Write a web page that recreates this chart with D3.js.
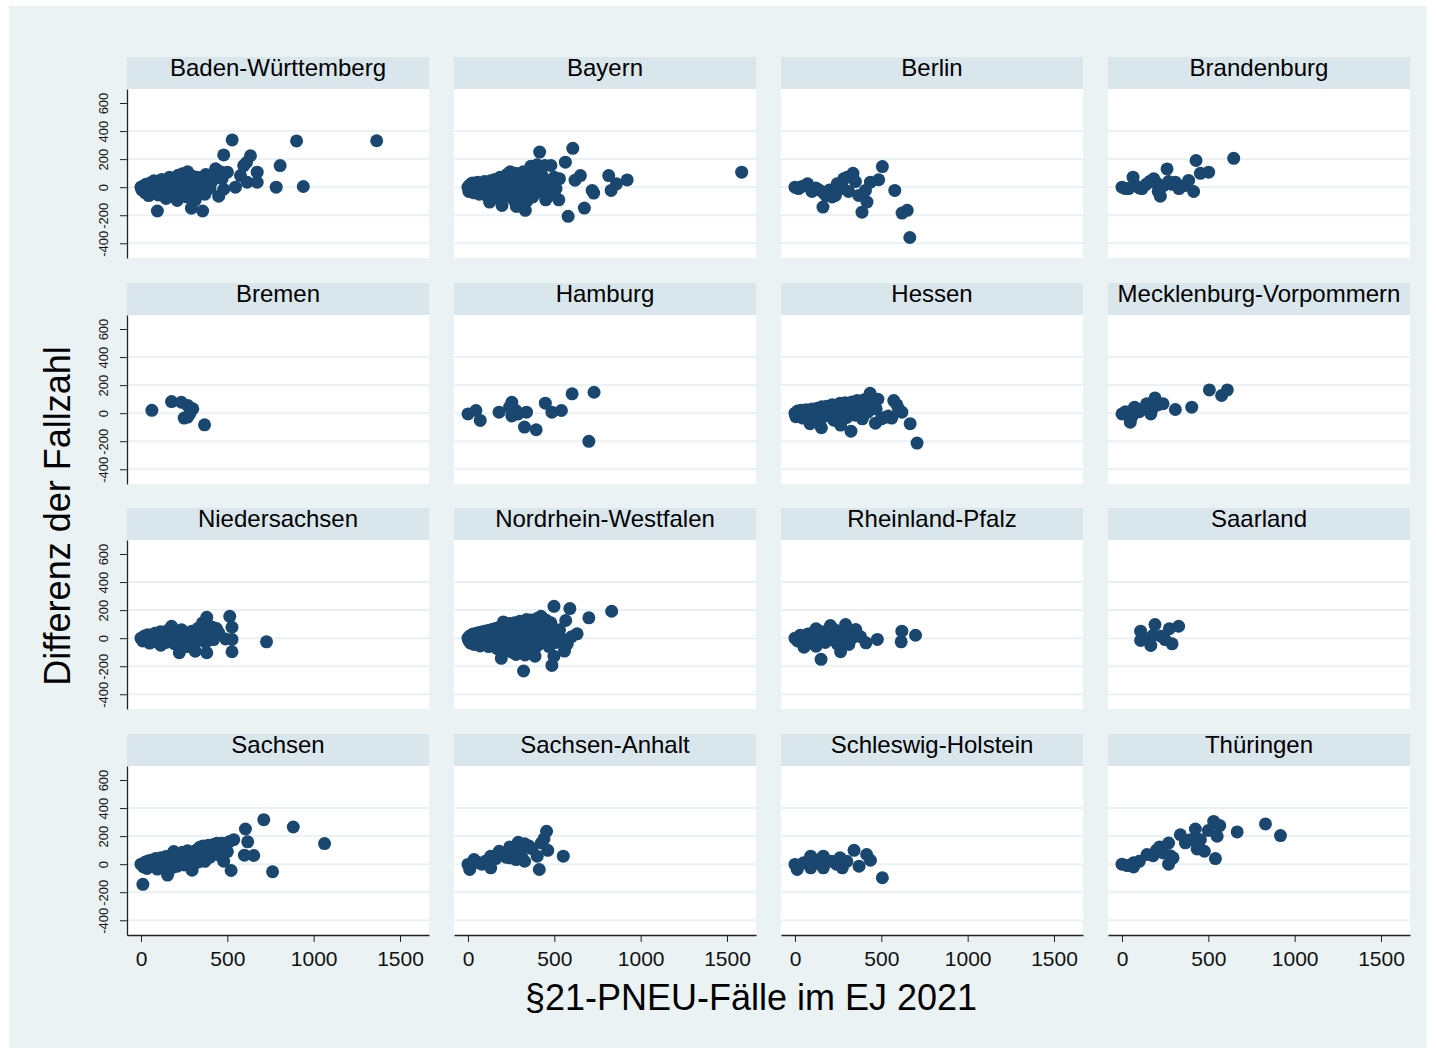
<!DOCTYPE html>
<html>
<head>
<meta charset="utf-8">
<script src="https://cdn.jsdelivr.net/npm/d3@7"></script>
<style>
  body { margin: 0; background: #fff; }
  svg { display: block; font-family: "Liberation Sans", Arial, sans-serif; }
</style>
</head>
<body>
<div id="chart"></div>
<script>
// values: [§21-PNEU-Fälle, Differenz]
const bw = [[0,0],[5,-20],[15,10],[25,-40],[30,20],[40,-10],[45,-60],[55,30],[60,5],[70,-30],[75,45],[85,-15],[90,15],[100,-55],[105,35],[95,-170],[115,-5],[120,55],[130,-35],[135,20],[145,-80],[150,40],[160,0],[165,70],[175,-25],[180,25],[190,-60],[195,60],[205,10],[210,-95],[215,85],[225,-20],[230,35],[240,95],[245,-45],[250,0],[255,60],[265,-70],[270,110],[275,25],[285,-10],[292,-150],[295,80],[300,-40],[305,45],[315,-90],[320,15],[325,70],[335,-20],[340,5],[357,-170],[350,60],[360,30],[370,-50],[375,90],[385,10],[395,70],[400,-5],[410,40],[432,131],[430,85],[450,-64],[479,-15],[460,110],[470,60],[500,107],[479,230],[528,337],[547,0],[576,83],[595,154],[611,176],[615,35],[634,224],[673,35],[673,107],[783,0],[806,154],[901,330],[940,5],[1365,331]];
const by = [[0,0],[5,-30],[10,15],[20,-10],[25,30],[35,-40],[40,10],[50,-20],[55,35],[65,-50],[70,5],[80,25],[85,-30],[95,40],[100,-10],[110,-60],[115,20],[125,-106],[130,45],[140,-15],[145,30],[155,55],[160,-45],[170,10],[175,-80],[185,70],[190,-20],[197,-130],[195,35],[210,50],[220,-5],[225,90],[230,-60],[240,20],[245,110],[250,-35],[260,60],[265,-90],[270,0],[280,-137],[275,100],[285,40],[295,-20],[300,75],[310,30],[315,-55],[320,110],[330,-10],[332,-165],[335,55],[340,-100],[345,90],[350,15],[360,-40],[365,150],[370,40],[375,-70],[380,100],[395,20],[400,160],[405,60],[415,250],[415,-30],[420,130],[430,80],[440,0],[445,155],[450,-90],[460,45],[470,-60],[480,155],[490,30],[500,70],[510,-10],[526,-90],[530,60],[564,178],[580,-208],[607,277],[620,50],[651,83],[674,-149],[719,-23],[728,-42],[815,83],[829,-23],[860,24],[922,52],[1585,107]];
const be = [[0,0],[20,-10],[40,5],[73,24],[98,-31],[120,-5],[140,-20],[162,-142],[166,-40],[180,-60],[200,-20],[215,-70],[234,-59],[244,24],[250,-20],[273,0],[282,60],[302,71],[310,-30],[336,99],[350,40],[369,-59],[388,-178],[408,-23],[417,-106],[437,36],[485,53],[506,147],[578,-23],[620,-185],[650,-165],[665,-359]];
const bb = [[0,0],[20,-10],[38,-10],[64,71],[80,10],[100,-5],[116,-10],[140,20],[160,40],[184,60],[200,30],[210,-30],[222,-64],[240,10],[261,130],[270,40],[290,20],[309,36],[330,-10],[360,10],[386,48],[415,-31],[429,190],[454,99],[502,107],[647,206]];
const hb = [[63,20],[177,83],[234,78],[250,-35],[270,55],[300,31],[282,-5],[270,-28],[368,-83]];
const hh = [[0,-5],[46,19],[71,-52],[180,7],[241,43],[254,78],[278,19],[290,-5],[254,-20],[327,-99],[339,7],[395,-118],[448,71],[486,7],[541,19],[603,138],[700,-201],[730,149]];
const he = [[0,0],[5,-25],[15,15],[25,-10],[35,20],[45,-35],[55,5],[65,25],[75,-20],[87,-75],[90,15],[100,30],[110,-5],[120,-40],[130,35],[140,10],[153,-104],[155,45],[165,-25],[175,20],[185,50],[195,-10],[205,35],[215,60],[225,-50],[230,15],[240,55],[250,-20],[260,70],[264,-85],[270,25],[280,40],[290,75],[300,-30],[310,55],[320,10],[324,-128],[330,80],[340,45],[350,-15],[360,90],[370,30],[380,70],[390,-40],[400,95],[410,50],[420,5],[430,85],[435,142],[440,110],[450,60],[466,-71],[470,30],[480,100],[500,-40],[520,-30],[540,-20],[560,-35],[572,90],[590,60],[600,30],[619,7],[667,-75],[707,-213]];
const mv = [[0,-5],[20,10],[48,-64],[60,-20],[73,43],[100,10],[120,30],[143,67],[167,-5],[180,40],[191,109],[210,60],[238,67],[309,26],[404,43],[506,166],[577,126],[610,166]];
const ni = [[0,0],[10,-20],[20,15],[30,-10],[40,25],[50,-35],[60,10],[70,-25],[80,35],[90,-15],[100,20],[112,45],[115,-50],[125,0],[135,30],[145,-30],[155,55],[165,-10],[177,85],[185,15],[195,-40],[205,40],[215,-20],[222,-104],[225,25],[235,60],[245,-30],[255,10],[265,-60],[275,35],[285,-5],[295,50],[305,-45],[314,-93],[320,20],[330,70],[340,-15],[356,109],[365,30],[375,-30],[381,149],[381,-104],[390,60],[400,10],[410,80],[420,-10],[437,69],[450,40],[490,-5],[514,156],[527,78],[527,-9],[527,-97],[727,-26]];
const nw = [[0,0],[5,-20],[10,15],[15,-35],[20,20],[25,-5],[30,30],[35,-45],[40,10],[45,-15],[50,35],[55,-30],[60,5],[65,40],[70,-55],[75,20],[80,-10],[85,45],[90,-40],[95,15],[100,50],[105,-25],[110,0],[115,55],[120,-60],[125,30],[130,-15],[135,60],[140,-45],[145,20],[150,65],[155,-30],[160,5],[165,70],[170,-75],[175,35],[180,-5],[185,80],[190,-50],[193,-144],[195,25],[200,90],[205,116],[210,-20],[215,45],[220,100],[225,-85],[230,10],[235,70],[240,-40],[245,105],[250,30],[255,-100],[260,60],[265,-15],[270,110],[278,-116],[280,40],[285,-60],[290,85],[295,5],[300,120],[305,-80],[310,50],[315,-30],[322,-234],[320,95],[325,15],[330,-120],[339,133],[340,60],[345,-50],[350,100],[355,25],[360,-90],[365,130],[370,70],[375,-20],[380,110],[388,-128],[390,40],[395,-60],[400,140],[405,80],[410,10],[415,-40],[423,156],[425,100],[430,50],[440,-20],[450,130],[460,70],[470,-60],[480,110],[486,-194],[490,20],[498,227],[498,-128],[510,-30],[522,-9],[530,60],[540,0],[559,-92],[566,126],[575,-40],[590,211],[600,10],[632,31],[700,145],[832,192]];
const rp = [[0,0],[15,-20],[30,20],[52,-64],[60,10],[75,30],[90,-15],[105,40],[122,67],[122,-57],[135,5],[151,-151],[160,45],[175,-30],[190,20],[205,90],[215,-10],[230,60],[245,-40],[255,30],[264,-97],[275,10],[293,97],[300,50],[312,-45],[330,0],[352,62],[380,10],[411,-33],[477,-9],[615,-26],[619,50],[698,21]];
const sl = [[108,50],[191,97],[274,67],[328,85],[108,-16],[167,-52],[290,-40],[226,14],[143,-5],[180,20],[250,-10]];
const sn = [[0,0],[11,-144],[15,-20],[25,15],[35,-30],[45,25],[55,5],[65,30],[75,-15],[85,40],[95,-35],[105,20],[115,45],[125,-10],[135,30],[145,55],[154,-78],[160,10],[170,60],[180,-25],[190,90],[200,35],[210,-15],[220,70],[230,40],[240,85],[250,-5],[260,60],[270,95],[280,20],[296,-43],[300,70],[310,40],[320,100],[330,15],[340,120],[350,60],[360,130],[370,20],[380,90],[390,135],[400,50],[410,110],[420,140],[430,80],[440,150],[450,100],[460,60],[470,150],[479,21],[490,120],[500,90],[510,160],[522,-45],[537,175],[599,64],[605,251],[618,159],[653,62],[711,317],[762,-54],[882,265],[1063,147]];
const st = [[0,-2],[10,-38],[35,33],[60,10],[80,0],[100,20],[132,-26],[132,57],[160,40],[181,92],[200,70],[220,50],[242,123],[242,45],[260,100],[279,33],[291,156],[300,90],[310,60],[328,145],[328,21],[352,130],[370,110],[401,57],[413,-38],[425,151],[440,180],[455,234],[462,99],[552,57]];
const sh = [[0,-2],[13,-38],[50,10],[91,57],[91,-26],[130,20],[164,57],[164,-26],[213,21],[240,0],[261,45],[274,-26],[300,20],[342,99],[371,-14],[415,69],[437,28],[506,-97]];
const th = [[0,0],[30,-10],[67,10],[67,-20],[100,20],[145,69],[180,60],[200,100],[218,123],[240,80],[270,151],[270,0],[280,60],[296,45],[338,210],[367,152],[396,175],[425,251],[435,109],[454,175],[477,92],[500,240],[531,305],[541,40],[551,199],[566,275],[667,230],[831,287],[918,204]];

const states = ["Baden-Württemberg","Bayern","Berlin","Brandenburg","Bremen","Hamburg","Hessen","Mecklenburg-Vorpommern","Niedersachsen","Nordrhein-Westfalen","Rheinland-Pfalz","Saarland","Sachsen","Sachsen-Anhalt","Schleswig-Holstein","Thüringen"];
const stateValues = [bw, by, be, bb, hb, hh, he, mv, ni, nw, rp, sl, sn, st, sh, th];

const xTicks = [0, 500, 1000, 1500];
const yTicks = [-400, -200, 0, 200, 400, 600];
const yGrid = [-400, -200, 0, 200, 400];

const width = 1436, height = 1054;
const colX = [127, 454, 781, 1108];
const rowY = [57, 283, 508, 734];
const pw = 302, stripH = 32, ph = 169;
const navy = "#1a476f";

const svg = d3.select("#chart").append("svg")
  .attr("width", width).attr("height", height)
  .attr("viewBox", [0, 0, width, height]);

svg.append("rect").attr("width", width).attr("height", height).attr("fill", "#fff");
svg.append("rect").attr("x", 9).attr("y", 6).attr("width", 1418).attr("height", 1042).attr("fill", "#eaf2f3");

const x = d3.scaleLinear().domain([-81, 1668]).range([0, pw]);
const y = d3.scaleLinear().domain([-505, 700]).range([ph, 0]);

states.forEach((name, i) => {
  const col = i % 4, row = Math.floor(i / 4);
  const g = svg.append("g").attr("transform", `translate(${colX[col]},${rowY[row] + stripH})`);

  g.append("rect").attr("y", -stripH).attr("width", pw).attr("height", stripH).attr("fill", "#d9e6eb");
  g.append("text")
    .attr("x", pw / 2).attr("y", -stripH + 18.5)
    .attr("text-anchor", "middle")
    .attr("font-size", 24)
    .attr("fill", "#000")
    .text(name);

  g.append("rect").attr("width", pw).attr("height", ph).attr("fill", "#fff");

  g.selectAll(".grid").data(yGrid).join("line")
    .attr("x1", 0).attr("x2", pw)
    .attr("y1", d => y(d)).attr("y2", d => y(d))
    .attr("stroke", "#eaf2f3").attr("stroke-width", 2);

  g.selectAll(".dot").data(stateValues[i]).join("circle")
    .attr("cx", d => x(d[0])).attr("cy", d => y(d[1]))
    .attr("r", 6.5).attr("fill", navy);

  if (col === 0) {
    const ay = g.append("g")
      .call(d3.axisLeft(y).tickValues(yTicks).tickSize(7).tickSizeOuter(0).tickFormat(d => String(d)));
    ay.select(".domain").attr("stroke", "#222").attr("stroke-width", 1.3);
    ay.selectAll(".tick line").attr("stroke", "#222");
    ay.selectAll(".tick text")
      .attr("x", null).attr("dy", null)
      .attr("transform", "translate(-19,0) rotate(-90)")
      .attr("text-anchor", "middle")
      .attr("font-size", 13)
      .attr("font-family", "Liberation Sans, Arial, sans-serif")
      .attr("fill", "#111");
  }
  if (row === 3) {
    const ax = g.append("g").attr("transform", `translate(0,${ph})`)
      .call(d3.axisBottom(x).tickValues(xTicks).tickSize(7).tickSizeOuter(0).tickPadding(9).tickFormat(d => String(d)));
    ax.select(".domain").attr("stroke", "#222").attr("stroke-width", 1.3);
    ax.selectAll(".tick line").attr("stroke", "#222");
    ax.selectAll(".tick text")
      .attr("font-size", 21)
      .attr("font-family", "Liberation Sans, Arial, sans-serif")
      .attr("fill", "#111");
  }
});

svg.append("text")
  .attr("x", 751).attr("y", 1010)
  .attr("text-anchor", "middle")
  .attr("font-size", 36)
  .attr("fill", "#000")
  .text("§21-PNEU-Fälle im EJ 2021");

svg.append("text")
  .attr("transform", "translate(70,516) rotate(-90)")
  .attr("text-anchor", "middle")
  .attr("font-size", 36)
  .attr("fill", "#000")
  .text("Differenz der Fallzahl");
</script>
</body>
</html>
